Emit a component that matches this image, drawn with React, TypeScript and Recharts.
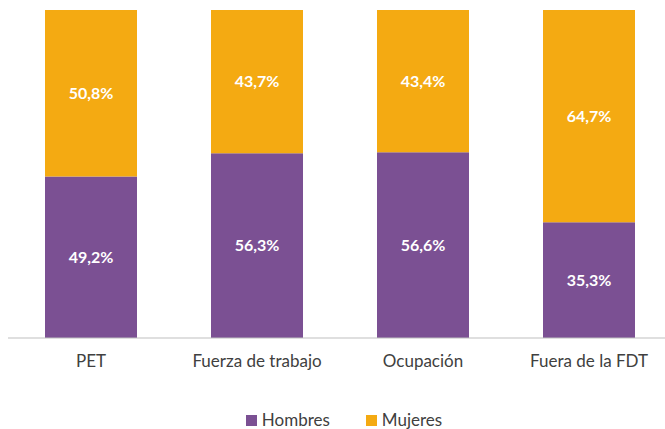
import { BarChart, Bar, XAxis, YAxis, LabelList } from 'recharts';

const categories = ['PET', 'Fuerza de trabajo', 'Ocupación', 'Fuera de la FDT'];
const hombres = [49.2, 56.3, 56.6, 35.3];
const mujeres = [50.8, 43.7, 43.4, 64.7];

const PURPLE = '#7B5093';
const ORANGE = '#F4AA12';
const FONT = 'Lato, Calibri, sans-serif';

const data = categories.map((name, i) => ({ name, hombres: hombres[i], mujeres: mujeres[i] }));

const fmt = (v: any) => `${Number(v).toFixed(1).replace('.', ',')}%`;

const legendItems = [
  { label: 'Hombres', color: PURPLE },
  { label: 'Mujeres', color: ORANGE },
];

const App = () => {
  return (
    <div style={{ position: 'fixed', top: 0, left: 0, width: 665, height: 429, overflow: 'hidden', background: '#fff' }}>
      <BarChart
        width={672}
        height={378}
        data={data}
        margin={{ top: 10, right: 0, left: 8, bottom: 0 }}
        barCategoryGap={37}
      >
        <XAxis
          dataKey="name"
          height={40}
          axisLine={{ stroke: '#BFBFBF' }}
          tickLine={false}
          tickMargin={11}
          tick={{ fill: '#404040', fontSize: 17, fontFamily: FONT }}
          interval={0}
        />
        <YAxis hide domain={[0, 100]} />
        <Bar dataKey="hombres" stackId="a" fill={PURPLE} isAnimationActive={false}>
          <LabelList dataKey="hombres" position="center" formatter={fmt} fill="#fff" fontSize={16} fontWeight="bold" fontFamily={FONT} />
        </Bar>
        <Bar dataKey="mujeres" stackId="a" fill={ORANGE} isAnimationActive={false}>
          <LabelList dataKey="mujeres" position="center" formatter={fmt} fill="#fff" fontSize={16} fontWeight="bold" fontFamily={FONT} />
        </Bar>
      </BarChart>
      <div
        style={{
          position: 'absolute',
          top: 412,
          left: 0,
          width: 688,
          display: 'flex',
          justifyContent: 'center',
          gap: 36,
          fontFamily: FONT,
          fontSize: 17,
          lineHeight: '16px',
          color: '#404040',
        }}
      >
        {legendItems.map((it) => (
          <div key={it.label} style={{ display: 'flex', alignItems: 'center' }}>
            <span style={{ width: 11, height: 11, background: it.color, display: 'inline-block', marginRight: 5 }} />
            <span>{it.label}</span>
          </div>
        ))}
      </div>
    </div>
  );
};

export default App;
